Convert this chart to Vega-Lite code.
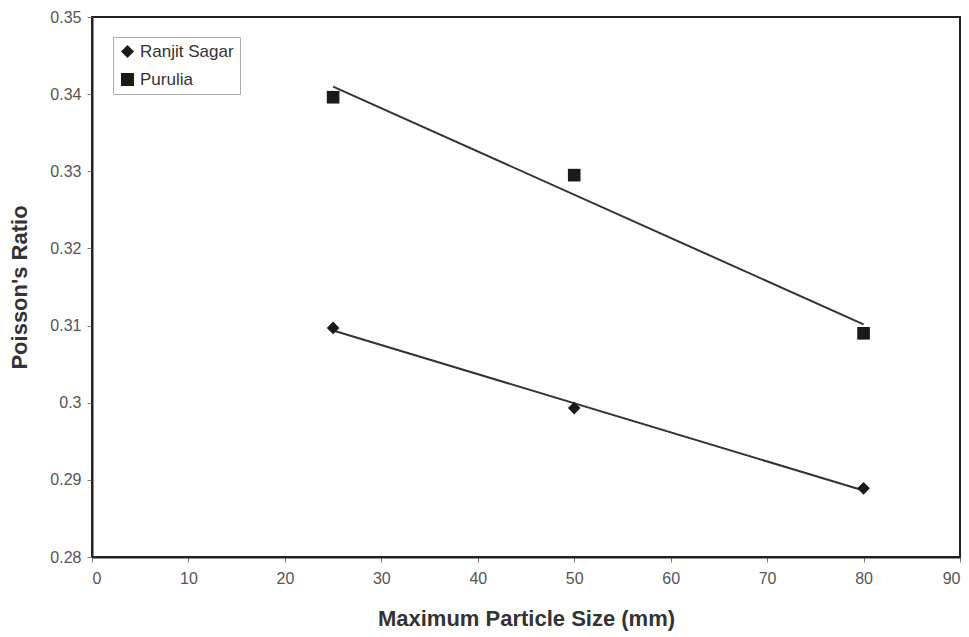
{
  "$schema": "https://vega.github.io/schema/vega-lite/v6.json",
  "width": 868,
  "height": 540,
  "autosize": "none",
  "padding": {"left": 92, "top": 17, "right": 9, "bottom": 80},
  "background": "white",
  "config": {
    "font": "Liberation Sans",
    "view": {"stroke": "#222", "strokeWidth": 2},
    "axis": {
      "grid": false,
      "domainColor": "#222",
      "domainWidth": 2,
      "tickColor": "#777",
      "tickSize": 5,
      "labelColor": "#555",
      "labelFontSize": 16,
      "labelFont": "Liberation Sans",
      "titleFont": "Liberation Sans",
      "titleFontSize": 22,
      "titleFontWeight": "bold",
      "titleColor": "#333"
    }
  },
  "data": {
    "values": [
      {"series": "Ranjit Sagar", "size": 25, "ratio": 0.3097},
      {"series": "Ranjit Sagar", "size": 50, "ratio": 0.2993},
      {"series": "Ranjit Sagar", "size": 80, "ratio": 0.2889},
      {"series": "Purulia", "size": 25, "ratio": 0.3396},
      {"series": "Purulia", "size": 50, "ratio": 0.3295},
      {"series": "Purulia", "size": 80, "ratio": 0.3090}
    ]
  },
  "layer": [
    {
      "transform": [
        {"regression": "ratio", "on": "size", "groupby": ["series"], "extent": [25, 80]}
      ],
      "mark": {"type": "line", "color": "#333", "strokeWidth": 2},
      "encoding": {
        "x": {"field": "size", "type": "quantitative"},
        "y": {"field": "ratio", "type": "quantitative"},
        "detail": {"field": "series"}
      }
    },
    {
      "mark": {"type": "point", "filled": true, "opacity": 1},
      "encoding": {
        "x": {
          "field": "size",
          "type": "quantitative",
          "title": "Maximum Particle Size (mm)",
          "scale": {"domain": [0, 90], "nice": false, "zero": false},
          "axis": {"values": [0, 10, 20, 30, 40, 50, 60, 70, 80, 90], "labelPadding": 8, "titlePadding": 22}
        },
        "y": {
          "field": "ratio",
          "type": "quantitative",
          "title": "Poisson's Ratio",
          "scale": {"domain": [0.28, 0.35], "nice": false, "zero": false},
          "axis": {"values": [0.28, 0.29, 0.3, 0.31, 0.32, 0.33, 0.34, 0.35], "format": ".2~f", "labelPadding": 6, "titlePadding": 18}
        },
        "color": {
          "field": "series",
          "type": "nominal",
          "sort": ["Ranjit Sagar", "Purulia"],
          "scale": {"domain": ["Ranjit Sagar", "Purulia"], "range": ["#1a1a1a", "#1a1a1a"]},
          "legend": {
            "title": null,
            "orient": "none",
            "legendX": 21,
            "legendY": 20,
            "padding": 6,
            "rowPadding": 10,
            "strokeColor": "#aaa",
            "fillColor": "white",
            "labelFontSize": 17,
            "labelColor": "#333",
            "symbolSize": 170,
            "symbolOffset": 0,
            "labelOffset": 4,
            "encode": {"legend": {"update": {"strokeDash": {"value": [2, 2]}}}}
          }
        },
        "shape": {
          "field": "series",
          "type": "nominal",
          "sort": ["Ranjit Sagar", "Purulia"],
          "scale": {"domain": ["Ranjit Sagar", "Purulia"], "range": ["diamond", "square"]}
        },
        "size": {"value": 160}
      }
    }
  ]
}
